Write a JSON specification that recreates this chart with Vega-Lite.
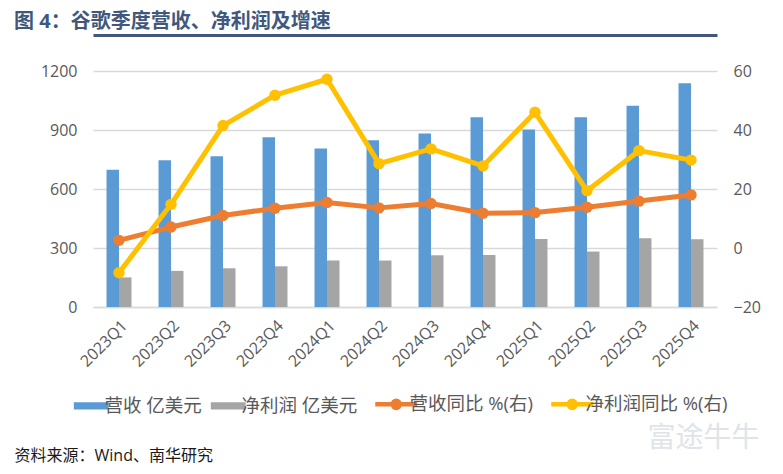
{
  "$schema": "https://vega.github.io/schema/vega-lite/v6.json",
  "width": 624,
  "height": 236,
  "autosize": {"type": "none"},
  "padding": {"left": 93, "top": 71, "right": 66, "bottom": 167},
  "background": "white",
  "config": {"view": {"stroke": null}, "font": "Open Sans, Noto Sans CJK SC"},
  "title": {
    "text": "图 4：谷歌季度营收、净利润及增速",
    "anchor": "start",
    "frame": "group",
    "dx": -79,
    "offset": 3,
    "fontSize": 20,
    "fontWeight": "bold",
    "color": "#41587c",
    "font": "Open Sans, Noto Sans CJK SC"
  },
  "data": {
    "values": [
      {"q": "2023Q1", "series": "营收 亿美元", "value": 697.9},
      {"q": "2023Q2", "series": "营收 亿美元", "value": 746.0},
      {"q": "2023Q3", "series": "营收 亿美元", "value": 766.9},
      {"q": "2023Q4", "series": "营收 亿美元", "value": 863.1},
      {"q": "2024Q1", "series": "营收 亿美元", "value": 805.4},
      {"q": "2024Q2", "series": "营收 亿美元", "value": 847.4},
      {"q": "2024Q3", "series": "营收 亿美元", "value": 882.7},
      {"q": "2024Q4", "series": "营收 亿美元", "value": 964.7},
      {"q": "2025Q1", "series": "营收 亿美元", "value": 902.3},
      {"q": "2025Q2", "series": "营收 亿美元", "value": 964.3},
      {"q": "2025Q3", "series": "营收 亿美元", "value": 1023.5},
      {"q": "2025Q4", "series": "营收 亿美元", "value": 1138.0},
      {"q": "2023Q1", "series": "净利润 亿美元", "value": 150.5},
      {"q": "2023Q2", "series": "净利润 亿美元", "value": 183.7},
      {"q": "2023Q3", "series": "净利润 亿美元", "value": 196.9},
      {"q": "2023Q4", "series": "净利润 亿美元", "value": 206.9},
      {"q": "2024Q1", "series": "净利润 亿美元", "value": 236.6},
      {"q": "2024Q2", "series": "净利润 亿美元", "value": 236.2},
      {"q": "2024Q3", "series": "净利润 亿美元", "value": 263.0},
      {"q": "2024Q4", "series": "净利润 亿美元", "value": 264.4},
      {"q": "2025Q1", "series": "净利润 亿美元", "value": 345.4},
      {"q": "2025Q2", "series": "净利润 亿美元", "value": 282.0},
      {"q": "2025Q3", "series": "净利润 亿美元", "value": 349.8},
      {"q": "2025Q4", "series": "净利润 亿美元", "value": 344.6},
      {"q": "2023Q1", "series": "营收同比 %(右)", "value": 2.6},
      {"q": "2023Q2", "series": "营收同比 %(右)", "value": 7.1},
      {"q": "2023Q3", "series": "营收同比 %(右)", "value": 11.0},
      {"q": "2023Q4", "series": "营收同比 %(右)", "value": 13.5},
      {"q": "2024Q1", "series": "营收同比 %(右)", "value": 15.4},
      {"q": "2024Q2", "series": "营收同比 %(右)", "value": 13.6},
      {"q": "2024Q3", "series": "营收同比 %(右)", "value": 15.1},
      {"q": "2024Q4", "series": "营收同比 %(右)", "value": 11.8},
      {"q": "2025Q1", "series": "营收同比 %(右)", "value": 12.0},
      {"q": "2025Q2", "series": "营收同比 %(右)", "value": 13.8},
      {"q": "2025Q3", "series": "营收同比 %(右)", "value": 15.9},
      {"q": "2025Q4", "series": "营收同比 %(右)", "value": 18.0},
      {"q": "2023Q1", "series": "净利润同比 %(右)", "value": -8.4},
      {"q": "2023Q2", "series": "净利润同比 %(右)", "value": 14.8},
      {"q": "2023Q3", "series": "净利润同比 %(右)", "value": 41.5},
      {"q": "2023Q4", "series": "净利润同比 %(右)", "value": 51.8},
      {"q": "2024Q1", "series": "净利润同比 %(右)", "value": 57.2},
      {"q": "2024Q2", "series": "净利润同比 %(右)", "value": 28.6},
      {"q": "2024Q3", "series": "净利润同比 %(右)", "value": 33.6},
      {"q": "2024Q4", "series": "净利润同比 %(右)", "value": 27.8},
      {"q": "2025Q1", "series": "净利润同比 %(右)", "value": 46.0},
      {"q": "2025Q2", "series": "净利润同比 %(右)", "value": 19.4},
      {"q": "2025Q3", "series": "净利润同比 %(右)", "value": 33.0},
      {"q": "2025Q4", "series": "净利润同比 %(右)", "value": 29.8}
    ]
  },
  "resolve": {"scale": {"y": "independent"}, "axis": {"x": "independent", "y": "independent"}},
  "layer": [
    {
      "transform": [{"filter": {"field": "series", "oneOf": ["营收 亿美元", "净利润 亿美元"]}}],
      "mark": {"type": "bar"},
      "encoding": {
        "x": {
          "field": "q", "type": "nominal", "sort": null,
          "scale": {"paddingInner": 0.52, "paddingOuter": 0.26},
          "axis": {
            "orient": "bottom", "labelAngle": -45, "labelFontSize": 16, "labelColor": "#595959",
            "labelFont": "Open Sans, Noto Sans CJK SC",
            "ticks": false, "domain": true, "domainColor": "#d9d9d9", "domainWidth": 1.3,
            "labelPadding": 10,
            "title": "资料来源：Wind、南华研究", "titleX": -79, "titleY": 148, "titleAlign": "left",
            "titleAnchor": null, "titleBaseline": "middle", "titleFontSize": 16, "titleFontWeight": "normal",
            "titleColor": "#1a1a1a", "titleFont": "Open Sans, Noto Sans CJK SC"
          }
        },
        "xOffset": {"field": "series", "type": "nominal", "sort": ["营收 亿美元", "净利润 亿美元"]},
        "y": {
          "field": "value", "type": "quantitative",
          "scale": {"domain": [0, 1200], "nice": false},
          "axis": {
            "orient": "left", "values": [0, 300, 600, 900, 1200], "format": "d", "grid": true, "gridColor": "#d9d9d9",
            "gridWidth": 1.3, "domain": false, "ticks": false, "labelPadding": 16, "labelFontSize": 16,
            "labelColor": "#595959", "labelFont": "Open Sans", "title": null
          }
        },
        "color": {
          "field": "series", "type": "nominal",
          "scale": {
            "domain": ["营收 亿美元", "净利润 亿美元", "营收同比 %(右)", "净利润同比 %(右)"],
            "range": ["#5B9BD5", "#A5A5A5", "#ED7D31", "#FFC000"]
          },
          "legend": {
            "orient": "none", "legendX": -11, "legendY": 324, "direction": "horizontal", "columns": 4,
            "title": null, "symbolSize": 1764, "labelFontSize": 18.5, "labelColor": "#595959",
            "labelFont": "Open Sans, Noto Sans CJK SC", "labelOffset": 4, "columnPadding": 8, "padding": 0,
            "labelLimit": 300,
            "encode": {
              "symbols": {
                "update": {
                  "shape": {"signal": "indexof(['营收 亿美元','净利润 亿美元'], datum.value) >= 0 ? 'M-0.83,-0.167L0.83,-0.167L0.83,0.167L-0.83,0.167Z' : 'M-1,0L1,0M-0.17,0A0.17,0.17,0,1,1,0.17,0A0.17,0.17,0,1,1,-0.17,0Z'"},
                  "strokeWidth": {"signal": "indexof(['营收 亿美元','净利润 亿美元'], datum.value) >= 0 ? 0 : 4.5"},
                  "fill": {"signal": "scale('color', datum.value)"},
                  "stroke": {"signal": "scale('color', datum.value)"},
                  "opacity": {"value": 1},
                  "fillOpacity": {"value": 1},
                  "strokeOpacity": {"value": 1}
                }
              },
              "labels": {"update": {"fontSize": {"value": 18.5}}}
            }
          }
        }
      }
    },
    {
      "transform": [{"filter": {"field": "series", "oneOf": ["营收同比 %(右)", "净利润同比 %(右)"]}}],
      "encoding": {
        "x": {
          "field": "q", "type": "nominal", "sort": null,
          "axis": {
            "orient": "top", "labels": false, "ticks": false, "grid": false, "domain": true,
            "domainColor": "#41587c", "domainWidth": 3, "offset": 36,
            "title": "富途牛牛", "titleX": 554, "titleY": 403, "titleAlign": "left", "titleAnchor": null,
            "titleBaseline": "middle", "titleFontSize": 28, "titleFontWeight": "normal", "titleColor": "#dfe4e8",
            "titleFont": "Noto Sans CJK SC"
          }
        },
        "y": {
          "field": "value", "type": "quantitative",
          "scale": {"domain": [-20, 60], "nice": false},
          "axis": {
            "orient": "right", "values": [-20, 0, 20, 40, 60], "grid": false, "domain": false, "ticks": false,
            "labelPadding": 16, "labelFontSize": 16, "labelColor": "#595959", "labelFont": "Open Sans", "title": null
          }
        },
        "color": {"field": "series", "type": "nominal"}
      },
      "layer": [
        {"mark": {"type": "line", "strokeWidth": 5, "strokeJoin": "round", "strokeCap": "round"}},
        {"mark": {"type": "point", "filled": true, "size": 130, "opacity": 1}}
      ]
    }
  ]
}
